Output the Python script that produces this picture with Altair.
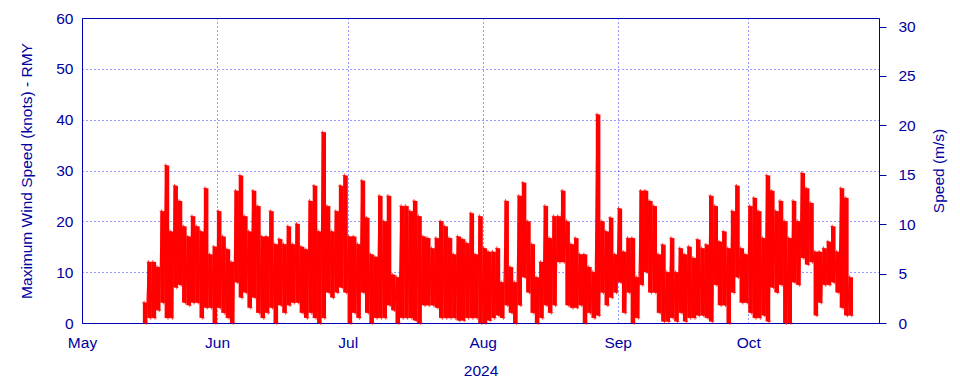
import altair as alt
import pandas as pd

# Day offset from 2024-05-01 and the daily max / min of maximum wind speed (knots)
day_index = list(range(14, 177))
max_knots = [
    4, 12, 12, 11, 22, 31, 18, 27, 24, 19, 17, 21, 19, 18, 26.5, 13.5, 15, 22, 17, 14.5,
    12, 26, 29, 21, 18, 26, 23, 17, 17, 22, 15.5, 16.5, 15.5, 19, 15.5, 19.5, 15, 14.5, 24, 27,
    18, 37.5, 23, 18, 22, 27, 29, 17, 17, 15.5, 28, 20.7, 13.5, 13, 25, 20, 25, 9.5, 9, 23,
    23, 22, 24, 21, 17, 16.7, 14.7, 16.7, 20, 19, 16.7, 13.5, 17, 16.5, 15.7, 21.6, 13.5, 21, 14.7, 14,
    14, 14.7, 8, 24, 11, 8, 25, 27.6, 20, 15.5, 9, 12, 23, 16.7, 21, 21, 26, 20, 15.5, 16.7,
    13.5, 13.5, 11, 10, 41, 20, 18, 20.7, 13.5, 22.5, 14, 16.7, 16.7, 9, 26, 26, 24, 23, 13.5, 15.4,
    10, 16.7, 10, 14.7, 13.5, 15, 12.8, 16.4, 14.7, 15.4, 25, 23, 16, 18, 14.7, 22, 27, 14.7, 13.5, 23,
    24.6, 22, 16.7, 29, 26, 22, 24, 20, 16.7, 24, 20, 29.5, 26.5, 23.6, 14, 14, 14.7, 16, 19, 14,
    26.5, 24.6, 9,
]
min_knots = [
    0, 1, 1, 2.5, 4, 1, 1, 7, 7.5, 4, 3.5, 4, 4, 1, 3, 3, 0, 3, 2, 1,
    0, 8, 5, 6, 3, 5, 2, 1, 2, 3, 0, 3.5, 2, 3.5, 4, 4, 2, 1, 2, 1,
    0, 1, 6, 5, 6, 7, 6, 0, 2, 1, 6, 2, 0, 1, 1, 1, 3.5, 2.5, 0, 1,
    1, 1, 0.5, 0, 3.5, 3.5, 3.5, 3, 1, 1, 1, 1, 0.5, 0.5, 1, 1, 1, 0, 0, 0.5,
    1, 1.5, 1, 3.5, 2, 0, 3.5, 9, 6, 2, 0, 1, 3.5, 2, 3.5, 12, 12, 3.5, 3, 3,
    3.5, 0, 2, 1, 1.5, 6, 3.5, 5, 6, 8, 2, 6, 0, 1, 7.5, 10, 6, 6, 2, 0.3,
    0.3, 1, 0.3, 2, 0.3, 1, 1, 1.5, 1.5, 1, 0.3, 7.5, 3.5, 3.5, 0, 6, 9, 4, 4, 2,
    1, 1, 1.5, 0.3, 7, 6, 7.5, 0, 0, 8, 7.5, 12.8, 11.5, 12, 1.5, 4, 7.5, 7.5, 8, 6,
    3, 1.5, 1.5,
]

month_starts = ["2024-05-01", "2024-06-01", "2024-07-01", "2024-08-01", "2024-09-01", "2024-10-01"]
knot_ticks = [0, 10, 20, 30, 40, 50, 60]
ms_ticks = [0, 5, 10, 15, 20, 25, 30]

start = pd.Timestamp("2024-05-01")
fmt = "%Y-%m-%dT%H:%M:%S"
rows = []
days = []
for d, hi, lo in zip(day_index, max_knots, min_knots):
    t = start + pd.Timedelta(days=d)
    rows.append({"time": (t + pd.Timedelta(hours=6)).strftime(fmt), "knots": hi})
    rows.append({"time": (t + pd.Timedelta(hours=18)).strftime(fmt), "knots": lo})
    days.append({"time": (t + pd.Timedelta(hours=12)).strftime(fmt), "lo": lo, "hi": hi})
df = pd.DataFrame(rows)
ddf = pd.DataFrame(days)

TEXT = "#0000a0"
FONT = "Liberation Sans"
FS = 15.5
RED = "#ff0000"


def dt(s):
    y, m, d = (int(v) for v in s.split("-"))
    return alt.DateTime(year=y, month=m, date=d)


x_scale = alt.Scale(domain=[dt("2024-05-01"), dt("2024-10-31")])
y_scale = alt.Scale(domain=[0, 60], nice=False)

x_enc = alt.X(
    "time:T",
    scale=x_scale,
    axis=alt.Axis(
        values=[dt(s) for s in month_starts],
        format="%b",
        title="2024",
        ticks=False,
        domain=False,
        labelPadding=12,
        titlePadding=13,
        grid=True,
        gridColor="#0000ff",
        gridDash=[1, 3],
        gridOpacity=0.8,
    ),
)

band = alt.Chart(ddf).mark_rule(color=RED, strokeWidth=4.6).encode(
    x=x_enc,
    y=alt.Y(
        "lo:Q",
        scale=y_scale,
        axis=alt.Axis(
            values=knot_ticks,
            title="Maximum Wind Speed (knots) - RMY",
            ticks=False,
            domain=False,
            labelPadding=9,
            titlePadding=21,
            grid=True,
            gridColor="#0000ff",
            gridDash=[1, 3],
            gridOpacity=0.8,
        ),
    ),
    y2="hi:Q",
)

base = alt.Chart(df)
line = base.mark_line(color=RED, strokeWidth=1.2).encode(
    x=alt.X("time:T", scale=x_scale), y=alt.Y("knots:Q", scale=y_scale)
)
points = base.mark_point(
    shape="M-1,0L1,0M0,-1L0,1", size=14, color=RED, filled=False, strokeWidth=1
).encode(x=alt.X("time:T", scale=x_scale), y=alt.Y("knots:Q", scale=y_scale))

right = base.transform_calculate(ms="datum.knots / 1.943844").mark_point(opacity=0).encode(
    x=alt.X("time:T", scale=x_scale),
    y=alt.Y(
        "ms:Q",
        scale=alt.Scale(domain=[0, 60 / 1.943844], nice=False),
        axis=alt.Axis(
            orient="right",
            values=ms_ticks,
            title="Speed (m/s)",
            titleAngle=270,
            ticks=True,
            tickSize=7,
            tickColor=TEXT,
            domain=False,
            labelPadding=12,
            titlePadding=31,
            grid=False,
        ),
    ),
)

left_layer = alt.layer(band, line, points)
chart = (
    alt.layer(left_layer, right)
    .resolve_scale(y="independent")
    .properties(
        width=797,
        height=305,
        autosize=alt.AutoSizeParams(type="none"),
        padding={"left": 74, "top": 10, "right": 73, "bottom": 58},
    )
    .configure_view(stroke=TEXT, strokeWidth=1)
    .configure_axis(
        labelFont=FONT,
        titleFont=FONT,
        labelFontSize=FS,
        titleFontSize=FS,
        labelColor=TEXT,
        titleColor=TEXT,
        titleFontWeight="normal",
        labelFlush=False,
        labelOverlap=False,
    )
)

chart.save("out.html", embed_options={"renderer": "svg", "actions": False})
